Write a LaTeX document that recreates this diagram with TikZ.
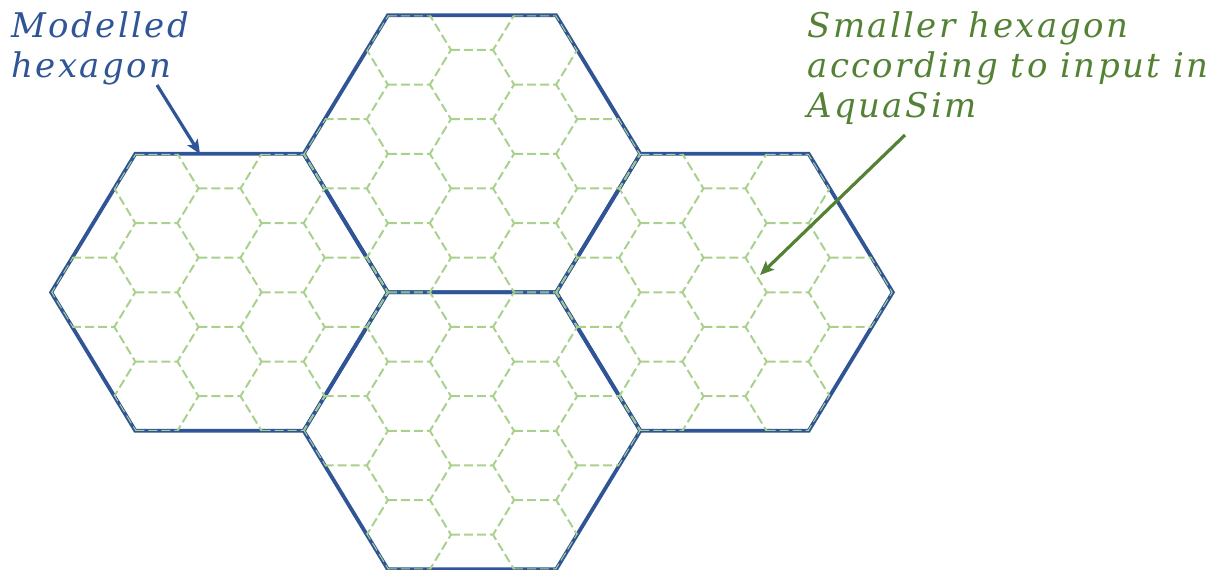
\documentclass[tikz,border=0pt]{standalone}
\usepackage{fontspec}
\setmainfont{DejaVu Serif}
\newfontfamily\labelfont{DejaVu Serif}[LetterSpace=7]
\usetikzlibrary{arrows.meta}
\definecolor{hexblue}{RGB}{47,85,151}
\definecolor{gridgreen}{RGB}{169,209,142}
\definecolor{txtgreen}{RGB}{84,130,53}
\begin{document}
\begin{tikzpicture}[x=0.5pt,y=-0.5pt,
  bighex/.style={draw=hexblue, line width=1.9pt, line join=miter},
  smallgrid/.style={draw=gridgreen, line width=1pt, dash pattern=on 4.5pt off 2pt},
  lbl/.style={font=\labelfont\itshape\fontsize{17}{20}\selectfont, anchor=north west, align=left, inner sep=0pt},
  bluearrow/.style={draw=hexblue, line width=1.6pt, -{Stealth[length=7pt,width=6pt,inset=1.5pt]}},
  greenarrow/.style={draw=txtgreen, line width=1.6pt, -{Stealth[length=7pt,width=6pt,inset=1.5pt]}}]
\useasboundingbox (0,0) rectangle (1215,569);
\def\R{168.3}\def\H{138.5}\def\r{42.075}\def\h{34.625}
% big hexagons
\foreach \cx/\cy in {219.5/292.3, 472/153.8, 724.5/292.3, 472/430.8} {
  \draw[bighex] (\cx-\R,\cy) -- (\cx-\R/2,\cy-\H) -- (\cx+\R/2,\cy-\H) -- (\cx+\R,\cy) -- (\cx+\R/2,\cy+\H) -- (\cx-\R/2,\cy+\H) -- cycle;
}
% small hexagon grids
\foreach \cx/\cy in {219.5/292.3, 472/153.8, 724.5/292.3, 472/430.8} {
  \begin{scope}
    \clip (\cx-\R,\cy) -- (\cx-\R/2,\cy-\H) -- (\cx+\R/2,\cy-\H) -- (\cx+\R,\cy) -- (\cx+\R/2,\cy+\H) -- (\cx-\R/2,\cy+\H) -- cycle;
    \foreach \i in {-4,...,4} {
      \pgfmathsetmacro\xx{\cx+1.5*\r*\i}
      \pgfmathsetmacro\off{mod(abs(\i),2)*\h}
      \foreach \j in {-3,...,3} {
        \pgfmathsetmacro\yy{\cy+2*\h*\j+\off}
        \draw[smallgrid] (\xx-\r/2,\yy-\h) -- (\xx+\r/2,\yy-\h) -- (\xx+\r,\yy) -- (\xx+\r/2,\yy+\h);
      }
    }
  \end{scope}
}
% labels
\node[lbl, text=hexblue] (mh) at (11,11) {Modelled\\hexagon};
\node[lbl, text=txtgreen] (sh) at (807,11) {Smaller hexagon\\according to input in\\AquaSim};
\coordinate (mhs) at (157,85);
\coordinate (mhe) at (200,154);
\coordinate (shs) at (905,135);
\coordinate (she) at (760,275);
\draw[bluearrow] (mhs) -- (mhe);
\draw[greenarrow] (shs) -- (she);
\end{tikzpicture}
\end{document}
